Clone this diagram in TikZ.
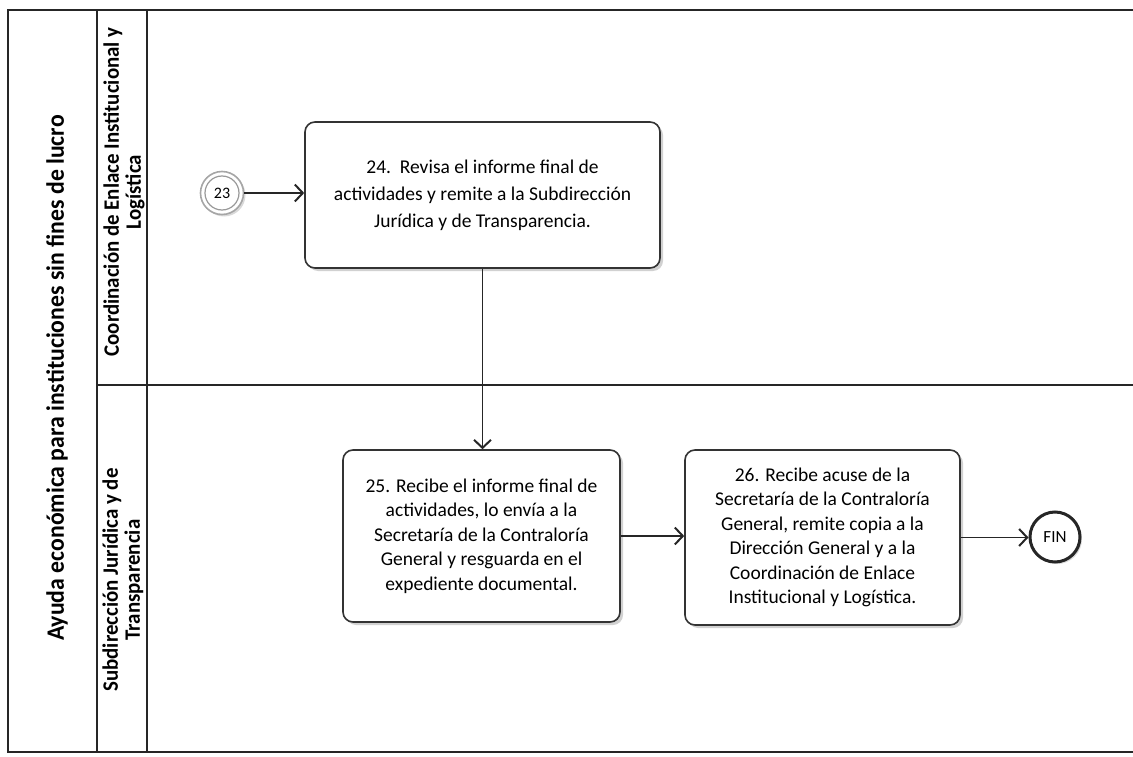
\documentclass[tikz,border=0pt]{standalone}
\usepackage{fontspec}
\setmainfont{Carlito}
\newfontfamily\lanefont[FakeStretch=0.95]{Carlito}
\usetikzlibrary{arrows.meta,shadows}

\tikzset{
  poolline/.style={draw=black!85, line width=1.6pt},
  task/.style={draw=black!80, line width=1.6pt, rounded corners=10pt, fill=white,
    align=center, font=\fontsize{19.5}{27}\selectfont, inner sep=0pt,
    drop shadow={shadow xshift=3pt, shadow yshift=-3pt, opacity=0.18, fill=black}},
  flow/.style={draw=black!85, line width=1.3pt,
    -{Straight Barb[length=8pt, width=17pt, line width=2pt]}},
  lanelabel/.style={rotate=90, align=center, font=\lanefont\bfseries\fontsize{22}{22}\selectfont},
}

\begin{document}
\begin{tikzpicture}[x=1pt, y=-1pt]
  \useasboundingbox (0,0) rectangle (1133,757);

  % pool frame and lanes
  \draw[poolline] (1133,10) -- (8,10) -- (8,752) -- (1133,752);
  \draw[poolline] (97,10) -- (97,752);
  \draw[poolline] (147,10) -- (147,752);
  \draw[poolline] (97,385) -- (1133,385);

  % pool and lane titles
  \node[lanelabel, font=\lanefont\bfseries\fontsize{25}{26}\selectfont] (pool) at (57,378)
    {Ayuda económica para instituciones sin fines de lucro};
  \node[lanelabel] (lane1) at (124,192)
    {Coordinación de Enlace Institucional y\\Logística};
  \node[lanelabel] (lane2) at (123,580)
    {Subdirección Jurídica y de\\Transparencia};

  % start event (link from activity 23)
  \node[circle, draw=black!35, line width=1.6pt, minimum size=43pt, fill=white,
        drop shadow={shadow xshift=2pt, shadow yshift=-2pt, opacity=0.15, fill=black}] (s23) at (222,193) {};
  \node[circle, draw=black!40, line width=1.2pt, minimum size=34pt, inner sep=0pt,
        font=\fontsize{16}{16}\selectfont] (s23in) at (s23) {23};

  % activities
  \node[task, minimum width=355pt, minimum height=146pt] (t24) at (482.5,195)
    {24.\ \ Revisa el informe final de\\actividades y remite a la Subdirección\\Jurídica y de Transparencia.};
  \node[task, minimum width=277pt, minimum height=172pt,
        font=\fontsize{19.5}{24.5}\selectfont] (t25) at (481.5,536)
    {25. Recibe el informe final de\\actividades, lo envía a la\\Secretaría de la Contraloría\\General y resguarda en el\\expediente documental.};
  \node[task, minimum width=275pt, minimum height=175pt,
        font=\fontsize{19.5}{24.5}\selectfont] (t26) at (822.5,537.5)
    {26. Recibe acuse de la\\Secretaría de la Contraloría\\General, remite copia a la\\Dirección General y a la\\Coordinación de Enlace\\Institucional y Logística.};

  % end event
  \node[circle, draw=black!85, line width=3pt, minimum size=50pt, fill=white,
        font=\fontsize{17}{17}\selectfont,
        drop shadow={shadow xshift=2pt, shadow yshift=-2pt, opacity=0.15, fill=black}] (fin) at (1055,537) {FIN};

  % sequence flows
  \draw[flow] (s23) -- (s23 -| t24.west);
  \draw[flow] (t24.south) -- (t24.south |- t25.north);
  \draw[flow] (t25.east) -- (t25.east -| t26.west);
  \draw[flow] (t26.east) -- (t26.east -| fin.west);
\end{tikzpicture}
\end{document}
